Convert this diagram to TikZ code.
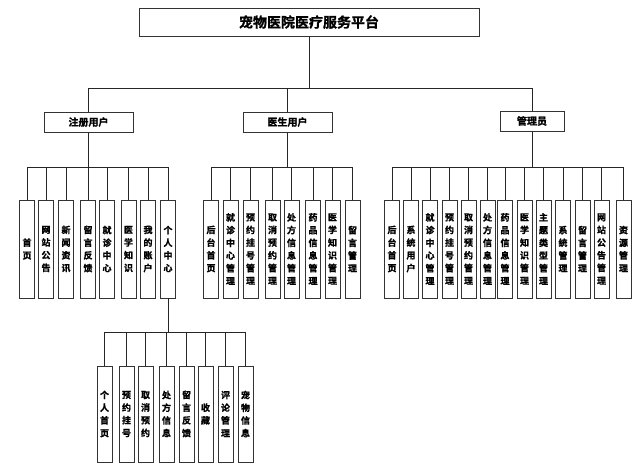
\documentclass[tikz,border=0pt]{standalone}
\usepackage{fontspec}
\setmainfont{Noto Sans CJK SC}[BoldFont={Noto Sans CJK SC Bold},BoldFeatures={FakeBold=1.2}]

\begin{document}
\begin{tikzpicture}[x=1pt,y=-1pt,
  box/.style={draw=black!80,line width=0.9pt,fill=white,inner sep=0pt},
  leaf/.style={box,minimum width=15,minimum height=98,align=center,
    font=\bfseries\fontsize{9}{12.7}\selectfont},
  sub/.style={leaf,minimum height=96},
  link/.style={draw=black!85,line width=0.7pt}]
\useasboundingbox (0,0) rectangle (640,473);
\def\ybusa{88}
\def\ybusb{167}
\def\ybusc{332}
\def\yleaf{249}
\def\ysub{414}
  \coordinate (busa) at (0,\ybusa);
  \coordinate (busb) at (0,\ybusb);
  \coordinate (busc) at (0,\ybusc);

  \node[box,minimum width=340,minimum height=28,font=\bfseries\fontsize{14}{16}\selectfont]
    (top) at (309,22) {宠物医院医疗服务平台};
  \node[box,minimum width=89,minimum height=20,font=\bfseries\fontsize{10}{12}\selectfont]
    (reg) at (88.5,122) {注册用户};
  \node[box,minimum width=89,minimum height=20,font=\bfseries\fontsize{10}{12}\selectfont]
    (doc) at (287.5,122) {医生用户};
  \node[box,minimum width=64,minimum height=20,font=\bfseries\fontsize{10}{12}\selectfont]
    (adm) at (532,121) {管理员};

  \foreach \n in {reg,doc,adm}
    \draw[link] (top.south) -- (top.south |- busa) -| (\n.north);

  % registered users
  \foreach \i/\x/\t in {1/27/{首\\页}, 2/46/{网\\站\\公\\告}, 3/66/{新\\闻\\资\\讯},
      4/88/{留\\言\\反\\馈}, 5/107/{就\\诊\\中\\心}, 6/128.5/{医\\学\\知\\识},
      7/148/{我\\的\\账\\户}, 8/168/{个\\人\\中\\心}} {
    \node[leaf] (r\i) at (\x,\yleaf) {\t};
    \draw[link] (reg.south) -- (reg.south |- busb) -| (r\i.north);
  }

  % doctors
  \foreach \i/\x/\t in {1/211/{后\\台\\首\\页}, 2/230.5/{就\\诊\\中\\心\\管\\理},
      3/250.5/{预\\约\\挂\\号\\管\\理}, 4/272.5/{取\\消\\预\\约\\管\\理},
      5/291.5/{处\\方\\信\\息\\管\\理}, 6/313/{药\\品\\信\\息\\管\\理},
      7/332.5/{医\\学\\知\\识\\管\\理}, 8/352.5/{留\\言\\管\\理}} {
    \node[leaf] (d\i) at (\x,\yleaf) {\t};
    \draw[link] (doc.south) -- (doc.south |- busb) -| (d\i.north);
  }

  % administrator
  \foreach \i/\x/\t in {1/392/{后\\台\\首\\页}, 2/411/{系\\统\\用\\户},
      3/430/{就\\诊\\中\\心\\管\\理}, 4/449.5/{预\\约\\挂\\号\\管\\理},
      5/468.5/{取\\消\\预\\约\\管\\理}, 6/487.5/{处\\方\\信\\息\\管\\理},
      7/505/{药\\品\\信\\息\\管\\理}, 8/524.5/{医\\学\\知\\识\\管\\理},
      9/543.5/{主\\题\\类\\型\\管\\理}, 10/563/{系\\统\\管\\理},
      11/582.5/{留\\言\\管\\理}, 12/601.5/{网\\站\\公\\告\\管\\理},
      13/623.5/{资\\源\\管\\理}} {
    \node[leaf] (a\i) at (\x,\yleaf) {\t};
    \draw[link] (adm.south) -- (adm.south |- busb) -| (a\i.north);
  }

  % personal centre
  \foreach \i/\x/\t in {1/104.5/{个\\人\\首\\页}, 2/126.5/{预\\约\\挂\\号},
      3/145.5/{取\\消\\预\\约}, 4/166.5/{处\\方\\信\\息}, 5/186.5/{留\\言\\反\\馈},
      6/205.5/{收\\藏}, 7/225.5/{评\\论\\管\\理}, 8/245.5/{宠\\物\\信\\息}} {
    \node[sub] (p\i) at (\x,\ysub) {\t};
    \draw[link] (r8.south) -- (r8.south |- busc) -| (p\i.north);
  }
\end{tikzpicture}
\end{document}
